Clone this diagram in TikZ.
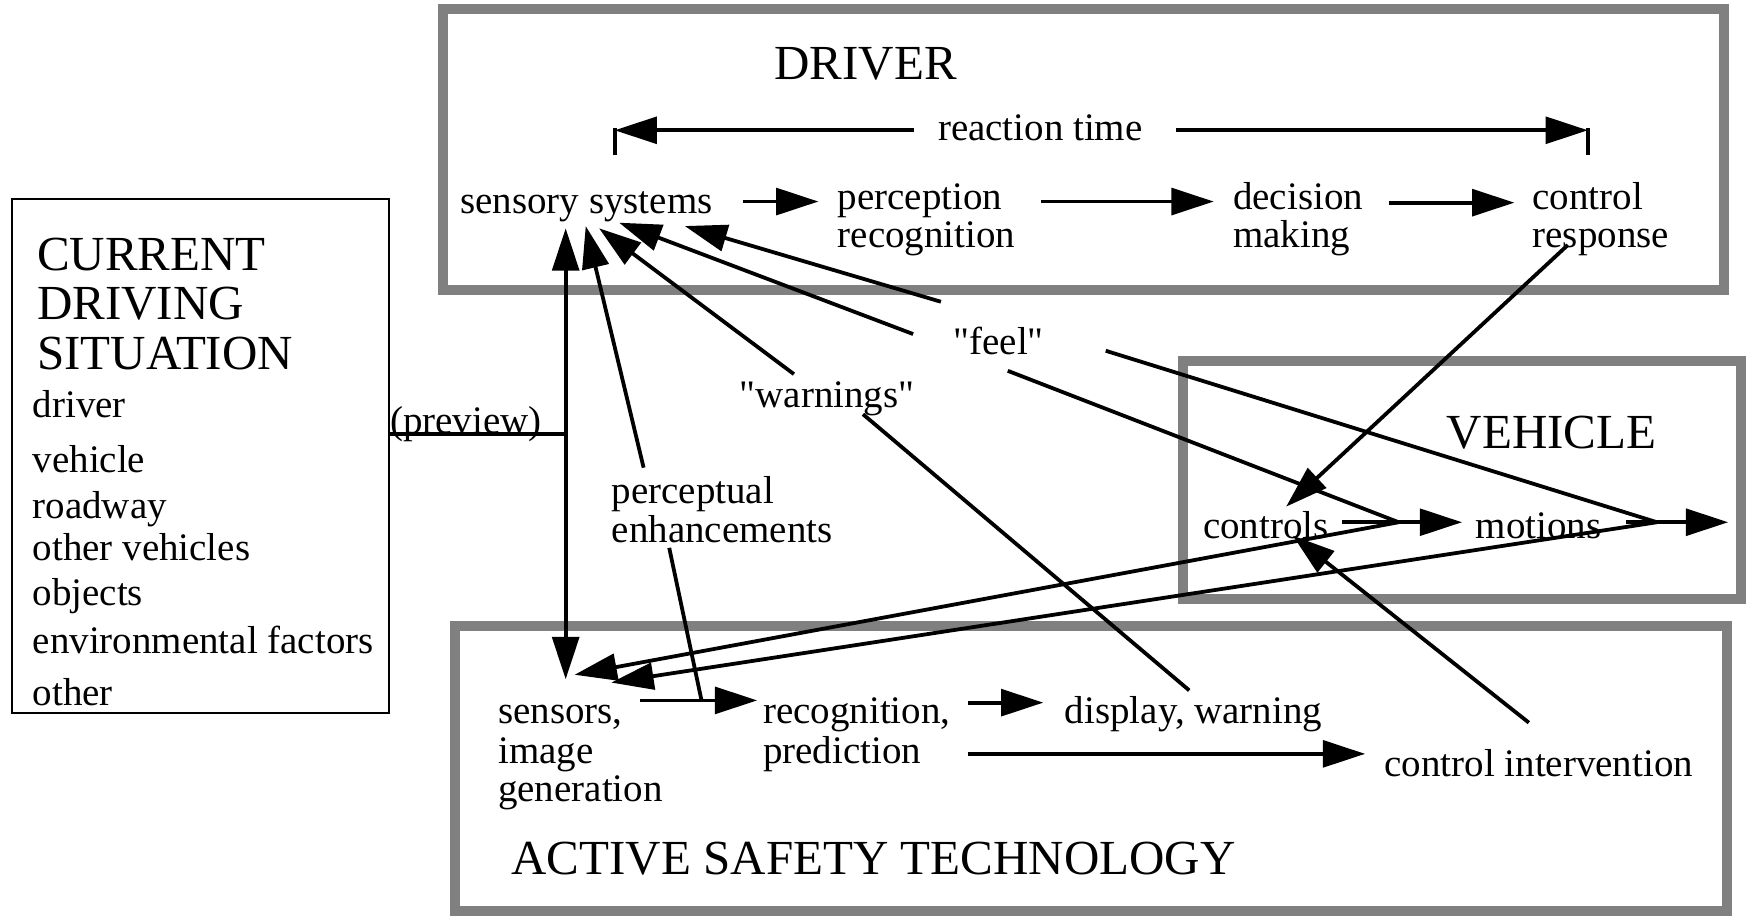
\documentclass[tikz,border=0pt]{standalone}
\usepackage{fontspec}
\setmainfont{Liberation Serif}
\newfontfamily\qfont{Liberation Serif}
\newcommand{\dq}{{\qfont"}}
\usetikzlibrary{arrows.meta}
\begin{document}
\begin{tikzpicture}[x=0.5pt,y=-0.5pt,
  lbl/.style={anchor=base west,inner sep=0pt,font=\fontsize{17.5}{17.5}\selectfont},
  ttl/.style={anchor=base west,inner sep=0pt,font=\fontsize{22}{22}\selectfont},
  band/.style={draw=black!50,line width=4.5pt},
  con/.style={line width=1.7pt},
  arr/.style={con,-{Triangle[length=19pt,width=12pt]}},
  tickline/.style={line width=1.7pt}]
\useasboundingbox (0,0) rectangle (1568,824);
\fill[white] (0,0) rectangle (1568,824);

% boxes
\draw[band] (397.5,8) rectangle (1548.5,260);
\draw[band] (1062.5,324.5) rectangle (1563.5,537.5);
\draw[band] (409,562.5) rectangle (1550.5,818.5);
\draw[line width=1pt] (11,179) rectangle (349,640);

% DRIVER
\node[ttl] (driver) at (695,71.5) {DRIVER};
\node[lbl] (rt) at (842,126) {reaction time};
\node[lbl] (sens) at (413,192) {sensory systems};
\node[lbl] (perc1) at (752,188) {perception};
\node[lbl] (perc2) at (752,222) {recognition};
\node[lbl] (dec1) at (1107,188) {decision};
\node[lbl] (dec2) at (1107,222) {making};
\node[lbl] (ctl1) at (1376,188) {control};
\node[lbl] (ctl2) at (1376,222) {response};

% CURRENT DRIVING SITUATION
\node[ttl] (cds1) at (33,243) {CURRENT};
\node[ttl] (cds2) at (33,287) {DRIVING};
\node[ttl] (cds3) at (33,332) {SITUATION};
\node[lbl] (l1) at (29,375) {driver};
\node[lbl] (l2) at (29,424) {vehicle};
\node[lbl] (l3) at (29,466) {roadway};
\node[lbl] (l4) at (29,503) {other vehicles};
\node[lbl] (l5) at (29,544) {objects};
\node[lbl] (l6) at (29,587) {environmental factors};
\node[lbl] (l7) at (29,634) {other};
\node[lbl] (prev) at (350,389) {(preview)};

% middle labels
\node[lbl] (feel) at (856,318) {\dq feel\dq};
\node[lbl] (warn) at (664,366) {\dq warnings\dq};
\node[lbl] (pe1) at (549,452) {perceptual};
\node[lbl] (pe2) at (549,487) {enhancements};

% VEHICLE
\node[ttl] (veh) at (1299,403) {VEHICLE};
\node[lbl] (controls) at (1080,484) {controls};
\node[lbl] (motions) at (1325,484) {motions};

% ACTIVE SAFETY TECHNOLOGY
\node[ttl] (ast) at (459,785) {ACTIVE SAFETY TECHNOLOGY};
\node[lbl] (se1) at (447,650) {sensors,};
\node[lbl] (se2) at (447,686) {image};
\node[lbl] (se3) at (447,720) {generation};
\node[lbl] (rp1) at (685,650) {recognition,};
\node[lbl] (rp2) at (685,686) {prediction};
\node[lbl] (dw) at (956,650) {display, warning};
\node[lbl] (ci) at (1243,697) {control intervention};

% coordinates
\coordinate (rtL) at (552,117);
\coordinate (rtLs) at (821,117);
\coordinate (rtR) at (1426,117);
\coordinate (rtRs) at (1056,117);
\coordinate (s2pA) at (667,181); \coordinate (s2pB) at (735,181);
\coordinate (p2dA) at (935,181); \coordinate (p2dB) at (1090,181);
\coordinate (d2cA) at (1247,182); \coordinate (d2cB) at (1360,182);
\coordinate (respS) at (1408,220); \coordinate (ctrlTip) at (1155,455);
\coordinate (vtop) at (508,205); \coordinate (vbot) at (508,610); \coordinate (vmid) at (508,390);
\coordinate (prevL) at (349,390);
\coordinate (peTip) at (526,203); \coordinate (peTop) at (578,420);
\coordinate (peBot) at (601,492); \coordinate (peJoin) at (630,629);
\coordinate (wTip) at (538,205); \coordinate (wS) at (713,336);
\coordinate (wLow) at (775,372); \coordinate (dwTop) at (1068,620);
\coordinate (bTip) at (556,200); \coordinate (bEnd) at (820,300); \coordinate (bRe) at (905,333);
\coordinate (aTip) at (615,203); \coordinate (aEnd) at (845,271); \coordinate (aRe) at (993,315);
\coordinate (P1) at (1256,469); \coordinate (P2) at (1488,469);
\coordinate (cTip) at (516,606); \coordinate (dTip) at (549,613);
\coordinate (ciS) at (1373,649); \coordinate (ciTip) at (1161,481);
\coordinate (c2mA) at (1205,469); \coordinate (c2mB) at (1313,469);
\coordinate (m2A) at (1460,469); \coordinate (m2B) at (1552,469);
\coordinate (s2rA) at (575,629); \coordinate (s2rB) at (680,629);
\coordinate (r2dA) at (869,631); \coordinate (r2dB) at (937,631);
\coordinate (r2cA) at (869,677); \coordinate (r2cB) at (1226,677);

% reaction time
\draw[tickline] (552,115) -- (552,139);
\draw[tickline] (1426,115) -- (1426,139);
\draw[arr] (rtLs) -- (rtL);
\draw[arr] (rtRs) -- (rtR);

% driver chain
\draw[arr] (s2pA) -- (s2pB);
\draw[arr] (p2dA) -- (p2dB);
\draw[arr] (d2cA) -- (d2cB);
\draw[arr] (respS) -- (ctrlTip);

% preview / vertical
\draw[con] (prevL) -- (vmid);
\draw[arr] (vmid) -- (vtop);
\draw[arr] (vmid) -- (vbot);

% perceptual enhancements
\draw[arr] (peTop) -- (peTip);
\draw[con] (peBot) -- (peJoin);

% warnings
\draw[arr] (wS) -- (wTip);
\draw[con] (wLow) -- (dwTop);

% feel lines
\draw[arr] (bEnd) -- (bTip);
\draw[con] (bRe) -- (P1);
\draw[arr] (aEnd) -- (aTip);
\draw[con] (aRe) -- (P2);

% vehicle
\draw[arr] (c2mA) -- (c2mB);
\draw[arr] (m2A) -- (m2B);
\draw[arr] (P1) -- (cTip);
\draw[arr] (P2) -- (dTip);
\draw[arr] (ciS) -- (ciTip);

% active safety chain
\draw[arr] (s2rA) -- (s2rB);
\draw[arr] (r2dA) -- (r2dB);
\draw[arr] (r2cA) -- (r2cB);
\end{tikzpicture}
\end{document}
